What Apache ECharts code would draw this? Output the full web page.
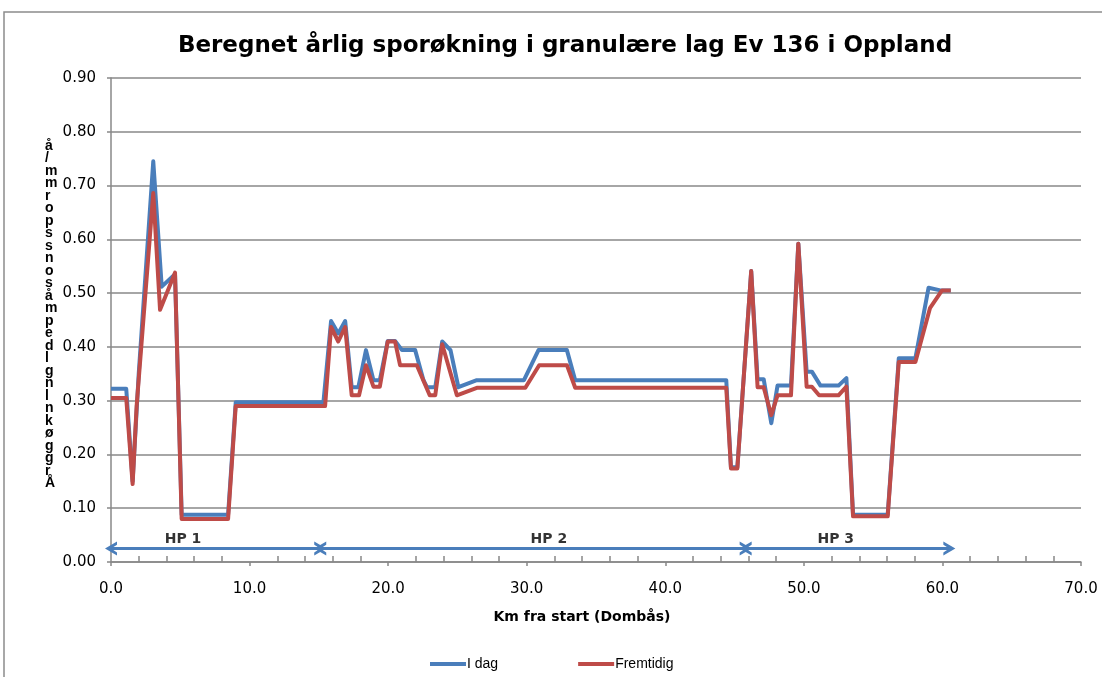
<!DOCTYPE html>
<html>
<head>
<meta charset="utf-8">
<script src="https://cdn.jsdelivr.net/npm/echarts@6/dist/echarts.min.js"></script>
<style>
  html, body { margin: 0; padding: 0; background: #fff; }
  #main { width: 1102px; height: 677px; }
</style>
</head>
<body>
<div id="main"></div>
<script>
// I dag (blue)
var kmIdag = [0, 1.1, 1.56, 2.0, 3.05, 3.66, 4.62, 5.1, 8.45, 9.0,
  15.33, 15.88, 16.4, 16.9, 17.37, 17.85, 18.4, 18.94, 19.4, 19.97,
  20.5, 21.0, 21.95, 22.55, 22.8, 23.4, 23.9, 24.5, 25.07, 26.4,
  29.8, 30.85, 32.9, 33.5, 44.4, 44.74, 45.2, 46.2, 46.66, 47.1,
  47.65, 48.1, 49.07, 49.6, 50.2, 50.58, 51.2, 52.5, 53.07, 53.55,
  56.05, 56.85, 58.05, 59.0, 59.85, 60.6]
var idag = [0.322, 0.322, 0.15, 0.35, 0.745, 0.512, 0.535, 0.088, 0.088, 0.297,
  0.297, 0.448, 0.425, 0.448, 0.325, 0.325, 0.394, 0.338, 0.338, 0.411,
  0.411, 0.394, 0.394, 0.338, 0.325, 0.325, 0.41, 0.394, 0.325, 0.338,
  0.338, 0.394, 0.394, 0.338, 0.338, 0.176, 0.176, 0.541, 0.34, 0.34,
  0.258, 0.328, 0.328, 0.592, 0.354, 0.354, 0.328, 0.328, 0.342, 0.088,
  0.088, 0.379, 0.379, 0.51, 0.505, 0.505]

// Fremtidig (red)
var kmFremtidig = [0, 1.1, 1.56, 1.85, 3.05, 3.54, 4.62, 5.1, 8.45, 9.0,
  15.45, 15.88, 16.4, 16.9, 17.37, 17.9, 18.4, 18.94, 19.4, 19.97,
  20.5, 20.86, 22.07, 23.0, 23.4, 23.9, 24.96, 26.4, 29.9, 30.9,
  32.9, 33.5, 44.4, 44.74, 45.2, 46.2, 46.66, 47.1, 47.65, 48.1,
  49.07, 49.6, 50.2, 50.58, 51.1, 52.5, 53.07, 53.55, 56.05, 56.85,
  58.05, 59.1, 59.97, 60.6]
var fremtidig = [0.305, 0.305, 0.145, 0.29, 0.686, 0.469, 0.538, 0.08, 0.08, 0.29,
  0.29, 0.437, 0.41, 0.437, 0.31, 0.31, 0.366, 0.326, 0.326, 0.41,
  0.41, 0.366, 0.366, 0.31, 0.31, 0.405, 0.31, 0.324, 0.324, 0.366,
  0.366, 0.324, 0.324, 0.174, 0.174, 0.541, 0.325, 0.325, 0.273, 0.31,
  0.31, 0.592, 0.326, 0.326, 0.31, 0.31, 0.326, 0.085, 0.085, 0.372,
  0.372, 0.472, 0.505, 0.505]

// HP sections (arrows along the bottom)
var hpNames = ['HP 1', 'HP 2', 'HP 3']
var hpStart = [0, 15.1, 45.8]
var hpEnd = [15.1, 45.8, 60.5]
var hpArrowY = 0.025
var hpLabelKm = [5.2, 31.6, 52.3]
var hpLabelY = 0.042

var yLabelChars = ['å', '/', 'm', 'm', 'r', 'o', 'p', 's', 's', 'n', 'o', 's', 'å', 'm', 'p',
  'e', 'd', 'l', 'g', 'n', 'l', 'n', 'k', 'ø', 'g', 'g', 'r', 'Å']

var FONT = '"DejaVu Sans", sans-serif'
var FONT2 = '"Liberation Sans", Arial, sans-serif'
var BLUE = '#4a7ebb'
var RED = '#be4b48'
var GRAYLINE = '#888888'

function pairs(xs, ys) {
  return xs.map(function (x, i) { return [x, ys[i]] })
}

// open chevron head, tip at top
var arrowHead = 'path://M5,0 L10,9 L7.8,9 L5,4.6 L2.2,9 L0,9 Z'

var hpLines = hpStart.map(function (s, i) {
  return [{ coord: [s, hpArrowY] }, { coord: [hpEnd[i], hpArrowY] }]
})
var hpLabels = hpNames.map(function (n, i) {
  return { name: n, value: [hpLabelKm[i], hpLabelY] }
})

var chart = echarts.init(document.getElementById('main'), null, { renderer: 'canvas' })

var option = {
  backgroundColor: '#fff',
  animation: false,
  textStyle: { fontFamily: FONT },
  title: {
    text: 'Beregnet årlig sporøkning i granulære lag Ev 136 i Oppland',
    left: 560,
    textAlign: 'center',
    top: 30,
    textStyle: { fontFamily: FONT, fontSize: 23, fontWeight: 'bold', color: '#000' }
  },
  graphic: [
    {
      type: 'rect',
      shape: { x: 4, y: 12, width: 1200, height: 800 },
      style: { fill: null, stroke: '#8c8c8c', lineWidth: 1.5 },
      silent: true
    },
    {
      type: 'text',
      left: 45,
      top: 139,
      style: {
        text: yLabelChars.join('\n'),
        font: 'bold 14px ' + FONT2,
        lineHeight: 12.5,
        fill: '#000',
        align: 'center'
      }
    }
  ],
  legend: {
    data: [
      { name: 'I dag', icon: 'rect' },
      { name: 'Fremtidig', icon: 'rect' }
    ],
    left: 425,
    top: 652,
    itemWidth: 36,
    itemHeight: 4,
    itemGap: 80,
    textStyle: { fontFamily: FONT2, fontSize: 14, color: '#000', padding: [0, 0, 0, -4] }
  },
  grid: { left: 111, right: 21, top: 78, bottom: 115 },
  xAxis: {
    type: 'value',
    min: 0,
    max: 70,
    interval: 10,
    name: 'Km fra start (Dombås)',
    nameLocation: 'middle',
    nameGap: 48,
    nameTextStyle: { fontFamily: FONT, fontSize: 14, fontWeight: 'bold', color: '#000', padding: [0, 28, 0, 0] },
    axisLine: { show: true, lineStyle: { color: GRAYLINE, width: 1.5 } },
    axisTick: { show: true, length: 4, lineStyle: { color: GRAYLINE, width: 1.5 } },
    minorTick: { show: true, splitNumber: 5, length: -6, lineStyle: { color: GRAYLINE, width: 1.5 } },
    axisLabel: {
      margin: 20,
      fontSize: 15,
      color: '#000',
      fontFamily: FONT,
      formatter: function (v) { return v.toFixed(1) }
    },
    splitLine: { show: false }
  },
  yAxis: {
    type: 'value',
    min: 0,
    max: 0.9,
    interval: 0.1,
    axisLine: { show: true, lineStyle: { color: GRAYLINE, width: 1.5 } },
    axisTick: { show: true, length: 4, lineStyle: { color: GRAYLINE, width: 1.5 } },
    axisLabel: {
      margin: 15,
      fontSize: 15,
      color: '#000',
      fontFamily: FONT,
      formatter: function (v) { return v.toFixed(2) }
    },
    splitLine: { show: true, lineStyle: { color: GRAYLINE, width: 1.5 } }
  },
  series: [
    {
      name: 'I dag',
      type: 'line',
      data: pairs(kmIdag, idag),
      symbol: 'none',
      lineStyle: { color: BLUE, width: 4, join: 'round' },
      itemStyle: { color: BLUE },
      z: 3
    },
    {
      name: 'Fremtidig',
      type: 'line',
      data: pairs(kmFremtidig, fremtidig),
      symbol: 'none',
      lineStyle: { color: RED, width: 4, join: 'round' },
      itemStyle: { color: RED },
      z: 4
    },
    {
      name: 'HP',
      type: 'scatter',
      data: hpLabels,
      symbolSize: 0,
      silent: true,
      label: {
        show: true,
        position: 'inside',
        formatter: '{b}',
        fontFamily: FONT,
        fontSize: 14,
        fontWeight: 'bold',
        color: '#000'
      },
      markLine: {
        silent: true,
        symbol: [arrowHead, arrowHead],
        symbolSize: [14, 12],
        label: { show: false },
        lineStyle: { color: BLUE, width: 3, type: 'solid' },
        data: hpLines
      },
      z: 5
    }
  ]
}

chart.setOption(option)
</script>
</body>
</html>
